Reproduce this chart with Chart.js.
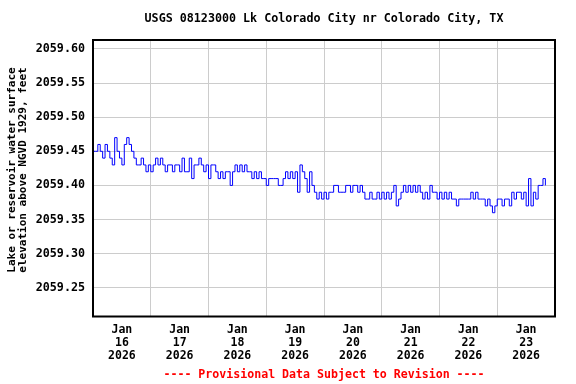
<!DOCTYPE html>
<html>
<head>
<meta charset="utf-8">
<script src="https://cdn.jsdelivr.net/npm/chart.js@4/dist/chart.umd.min.js"></script>
<style>
    html, body { margin: 0; padding: 0; background: #fff; }
    #wrap { width: 576px; height: 384px; }
</style>
</head>
<body>
<div id="wrap"><canvas id="chartStage"></canvas></div>
<script>
(function () {
    'use strict';

    // ── Data (hourly gage height, ft, starting Jan 16 00:00) ─────
    const DAY_LABELS = ['16', '17', '18', '19', '20', '21', '22', '23'];
    const MONTH = 'Jan';
    const YEAR = '2026';

    const jan16 = [2059.45,2059.45,2059.46,2059.45,2059.44,2059.46,2059.45,2059.44,2059.43,2059.47,2059.45,2059.44,
                   2059.43,2059.46,2059.47,2059.46,2059.45,2059.44,2059.43,2059.43,2059.44,2059.43,2059.42,2059.43];
    const jan17 = [2059.42,2059.43,2059.44,2059.43,2059.44,2059.43,2059.42,2059.43,2059.43,2059.42,2059.43,2059.43,
                   2059.42,2059.44,2059.42,2059.42,2059.44,2059.41,2059.43,2059.43,2059.44,2059.43,2059.42,2059.43];
    const jan18 = [2059.41,2059.43,2059.43,2059.42,2059.41,2059.42,2059.41,2059.42,2059.42,2059.40,2059.42,2059.43,
                   2059.42,2059.43,2059.42,2059.43,2059.42,2059.42,2059.41,2059.42,2059.41,2059.42,2059.41,2059.41];
    const jan19 = [2059.40,2059.41,2059.41,2059.41,2059.41,2059.40,2059.40,2059.41,2059.42,2059.41,2059.42,2059.41,
                   2059.42,2059.39,2059.43,2059.42,2059.41,2059.39,2059.42,2059.40,2059.39,2059.38,2059.39,2059.38];
    const jan20 = [2059.39,2059.38,2059.39,2059.39,2059.40,2059.40,2059.39,2059.39,2059.39,2059.40,2059.40,2059.39,
                   2059.40,2059.40,2059.39,2059.40,2059.39,2059.38,2059.38,2059.39,2059.38,2059.38,2059.39,2059.38];
    const jan21 = [2059.39,2059.38,2059.39,2059.38,2059.39,2059.40,2059.37,2059.38,2059.39,2059.40,2059.39,2059.40,
                   2059.39,2059.40,2059.39,2059.40,2059.39,2059.38,2059.39,2059.38,2059.40,2059.39,2059.39,2059.38];
    const jan22 = [2059.39,2059.38,2059.39,2059.38,2059.39,2059.38,2059.38,2059.37,2059.38,2059.38,2059.38,2059.38,
                   2059.38,2059.39,2059.38,2059.39,2059.38,2059.38,2059.38,2059.37,2059.38,2059.37,2059.36,2059.37];
    const jan23 = [2059.38,2059.38,2059.37,2059.38,2059.38,2059.37,2059.39,2059.38,2059.39,2059.39,2059.38,2059.39,
                   2059.37,2059.41,2059.37,2059.39,2059.38,2059.40,2059.40,2059.41,2059.40];

    const Y_TICKS = [2059.25, 2059.30, 2059.35, 2059.40, 2059.45, 2059.50, 2059.55, 2059.60];
    const Y_MIN = 2059.208;
    const Y_MAX = 2059.613;

    const TITLE = 'USGS 08123000 Lk Colorado City nr Colorado City, TX';
    const Y_TITLE = ['Lake or reservoir water surface', 'elevation above NGVD 1929, feet'];
    const FOOTER = '---- Provisional Data Subject to Revision ----';

    const MONO = '"DejaVu Sans Mono", monospace';

    // ── Build series ────────────────────────────────────────────
    const stage = [].concat(jan16, jan17, jan18, jan19, jan20, jan21, jan22, jan23);
    const points = stage.map((v, i) => ({ x: i, y: v }));
    const totalHours = DAY_LABELS.length * 24;

    // ── Frame + texts ───────────────────────────────────────────
    const framePlugin = {
        id: 'frame',
        afterDraw(chart) {
            const { ctx, chartArea: a } = chart;
            ctx.save();
            ctx.strokeStyle = '#000';
            ctx.lineWidth = 2;
            ctx.strokeRect(a.left, a.top, a.right - a.left, a.bottom - a.top);

            const cx = (a.left + a.right) / 2;
            ctx.textAlign = 'center';
            ctx.textBaseline = 'middle';
            ctx.fillStyle = '#000';
            ctx.font = 'bold 11.7px ' + MONO;
            ctx.fillText(TITLE, cx, 19);

            // y-axis title, rotated
            ctx.save();
            ctx.translate(0, 170);
            ctx.rotate(-Math.PI / 2);
            ctx.font = 'bold 11px ' + MONO;
            ctx.fillText(Y_TITLE[0], 0, 12);
            ctx.fillText(Y_TITLE[1], 0, 23.5);
            ctx.restore();

            ctx.fillStyle = '#ff0000';
            ctx.font = 'bold 11.6px ' + MONO;
            ctx.fillText(FOOTER, cx, 375);
            ctx.restore();
        },
    };

    new Chart(document.getElementById('chartStage'), {
        type: 'line',
        data: {
            datasets: [{
                data: points,
                borderColor: '#0000ff',
                borderWidth: 1,
                stepped: true,
                pointRadius: 0,
                fill: false,
            }],
        },
        options: {
            responsive: true,
            maintainAspectRatio: false,
            animation: false,
            devicePixelRatio: 1,
            layout: { padding: { top: 40, right: 21, left: 0, bottom: 0 } },
            plugins: { legend: { display: false }, tooltip: { enabled: false } },
            scales: {
                x: {
                    type: 'linear',
                    min: 0,
                    max: totalHours,
                    afterBuildTicks(s) {
                        const t = [];
                        DAY_LABELS.forEach((d, i) => {
                            t.push({ value: i * 24 });
                            t.push({ value: i * 24 + 12 });
                        });
                        t.push({ value: totalHours });
                        s.ticks = t;
                    },
                    afterFit(s) { s.height = 67.5; },
                    border: { display: false },
                    grid: {
                        drawTicks: false,
                        color: c => {
                            const v = c.tick ? c.tick.value : -1;
                            return (v % 24 === 0 && v > 0 && v < totalHours) ? '#cccccc' : 'rgba(0,0,0,0)';
                        },
                    },
                    ticks: {
                        autoSkip: false,
                        maxRotation: 0,
                        padding: 7,
                        color: '#000',
                        font: { family: MONO, size: 11.5, weight: 'bold', lineHeight: 1.13 },
                        callback: v => (v % 24 === 12) ? [MONTH, DAY_LABELS[(v - 12) / 24], YEAR] : '',
                    },
                },
                y: {
                    min: Y_MIN,
                    max: Y_MAX,
                    afterBuildTicks(s) { s.ticks = Y_TICKS.map(v => ({ value: v })); },
                    afterFit(s) { s.width = 93; },
                    border: { display: false },
                    grid: { drawTicks: false, color: '#cccccc' },
                    ticks: {
                        padding: 8,
                        color: '#000',
                        font: { family: MONO, size: 11.7, weight: 'bold' },
                        callback: v => v.toFixed(2),
                    },
                },
            },
        },
        plugins: [framePlugin],
    });
})();
</script>
</body>
</html>
